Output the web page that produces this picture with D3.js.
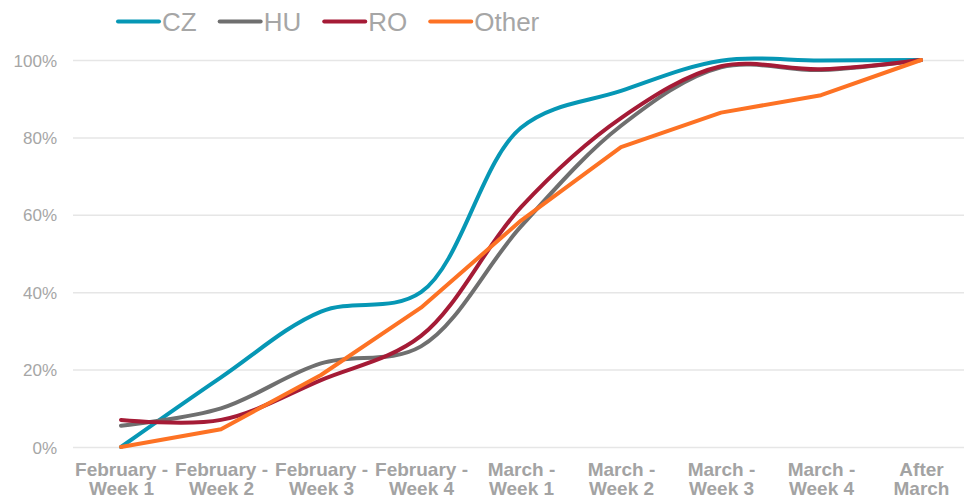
<!DOCTYPE html>
<html>
<head>
<meta charset="utf-8">
<script src="https://cdn.jsdelivr.net/npm/d3@7"></script>
<style>
  body { margin: 0; background: #fff; }
  svg { display: block; font-family: "Liberation Sans", Arial, sans-serif; }
</style>
</head>
<body>
<div id="chart"></div>
<script>
// categories (two-line tick labels)
var categories = ["February - Week 1", "February - Week 2", "February - Week 3", "February - Week 4",
  "March - Week 1", "March - Week 2", "March - Week 3", "March - Week 4", "After March"];
var tickLines = [["February -", "Week 1"], ["February -", "Week 2"], ["February -", "Week 3"], ["February -", "Week 4"],
  ["March -", "Week 1"], ["March -", "Week 2"], ["March -", "Week 3"], ["March -", "Week 4"], ["After", "March"]];
var yTicks = [0, 0.2, 0.4, 0.6, 0.8, 1];

// cumulative share
var czValues    = [0.000, 0.180, 0.350, 0.400, 0.825, 0.920, 0.998, 0.999, 1.000];
var huValues    = [0.055, 0.100, 0.216, 0.260, 0.570, 0.830, 0.981, 0.974, 1.000];
var roValues    = [0.070, 0.070, 0.173, 0.287, 0.620, 0.850, 0.984, 0.976, 1.000];
var otherValues = [0.000, 0.046, 0.186, 0.360, 0.585, 0.775, 0.864, 0.909, 1.000];

var seriesNames  = ["CZ", "HU", "RO", "Other"];
var seriesValues = [czValues, huValues, roValues, otherValues];
var seriesColors = ["#0697b5", "#6f6f6f", "#a51b36", "#fd7224"];
var seriesSmooth = [true, true, true, false];

var width = 964, height = 498;
var svg = d3.select("#chart").append("svg")
    .attr("width", width)
    .attr("height", height);

var x = d3.scalePoint()
    .domain(categories)
    .range([121, 921]);

var y = d3.scaleLinear()
    .domain([0, 1])
    .range([447, 60]);

// gridlines + y labels
var yAxis = d3.axisLeft(y)
    .tickValues(yTicks)
    .tickFormat(d3.format(".0%"))
    .tickSize(-(964 - 73))
    .tickPadding(16);

var gY = svg.append("g")
    .attr("transform", "translate(73,0)")
    .call(yAxis);
gY.select(".domain").remove();
gY.selectAll(".tick line")
    .attr("stroke", "#e6e6e6")
    .attr("stroke-width", 1.5);
gY.selectAll(".tick text")
    .attr("fill", "#a6a6a6")
    .style("font-size", "17px")
    .attr("dy", "0.36em");

// x labels
var xAxis = d3.axisBottom(x).tickSize(0).tickFormat("");
var gX = svg.append("g")
    .attr("transform", "translate(0,447)")
    .call(xAxis);
gX.select(".domain").remove();
gX.selectAll(".tick").each(function(d, i) {
    var t = d3.select(this).append("text")
        .attr("text-anchor", "middle")
        .attr("fill", "#a3a3a3")
        .style("font-size", "19px")
        .style("font-weight", "bold");
    tickLines[i].forEach(function(s, j) {
        t.append("tspan").attr("x", 0).attr("y", 29 + j * 19).text(s);
    });
});

// series
seriesValues.forEach(function(vals, k) {
    var line = d3.line()
        .x(function(d, i) { return x(categories[i]); })
        .y(function(d) { return y(d); })
        .curve(seriesSmooth[k] ? d3.curveCatmullRom.alpha(0.5) : d3.curveLinear);
    svg.append("path")
        .datum(vals)
        .attr("fill", "none")
        .attr("stroke", seriesColors[k])
        .attr("stroke-width", 4)
        .attr("stroke-linejoin", "round")
        .attr("stroke-linecap", "round")
        .attr("d", line);
});

// legend
var legend = svg.append("g").attr("class", "legend");
var lx = 118;
seriesNames.forEach(function(name, k) {
    legend.append("line")
        .attr("x1", lx).attr("x2", lx + 41)
        .attr("y1", 21.5).attr("y2", 21.5)
        .attr("stroke", seriesColors[k])
        .attr("stroke-width", 4)
        .attr("stroke-linecap", "round");
    var t = legend.append("text")
        .attr("x", lx + 44)
        .attr("y", 31)
        .attr("fill", "#a6a6a6")
        .style("font-size", "26px")
        .text(name);
    lx += 44 + t.node().getComputedTextLength() + 23;
});
</script>
</body>
</html>
